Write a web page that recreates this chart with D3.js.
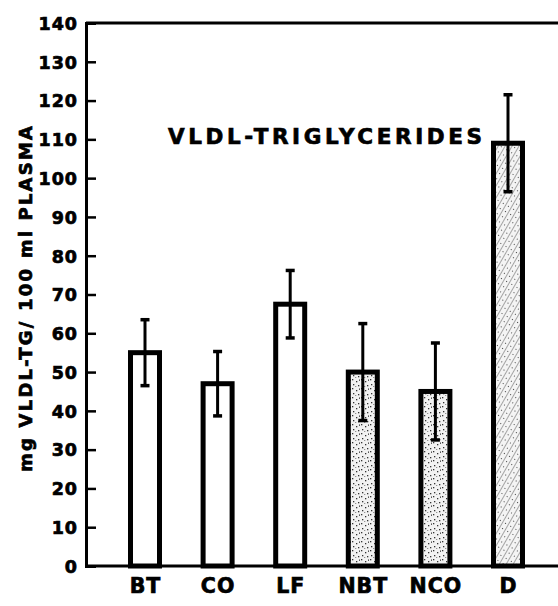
<!DOCTYPE html>
<html>
<head>
<meta charset="utf-8">
<script src="https://cdn.jsdelivr.net/npm/d3@7"></script>
<style>
  html, body { margin: 0; padding: 0; background: #fff; }
  svg { display: block; }
  text { font-family: "DejaVu Sans", "Liberation Sans", sans-serif; font-weight: bold; fill: #000; stroke: #000; stroke-width: 0.7px; }
</style>
</head>
<body>
<svg id="chart" width="558" height="606"></svg>
<script>
// ---- data ----
const categories = ["BT", "CO", "LF", "NBT", "NCO", "D"];
const means      = [55, 47, 67.5, 50, 45, 109];
const errors     = [8.5, 8.3, 8.7, 12.5, 12.5, 12.5];
const fills      = ["white", "white", "white", "stipple", "stipple", "hatch"];
const yTicks     = [0, 10, 20, 30, 40, 50, 60, 70, 80, 90, 100, 110, 120, 130, 140];
const title      = "VLDL-TRIGLYCERIDES";
const yLabel     = "mg VLDL-TG/ 100 ml PLASMA";

const svg = d3.select("#chart");

// patterns
const defs = svg.append("defs");
const stip = defs.append("pattern").attr("id", "stipple")
  .attr("patternUnits", "userSpaceOnUse").attr("width", 9).attr("height", 9);
stip.append("rect").attr("width", 9).attr("height", 9).attr("fill", "#f2f2f2");
[[1,1],[5,3],[2,6],[7,7],[4,8.5],[8,1.5]].forEach(([cx, cy]) =>
  stip.append("rect").attr("x", cx).attr("y", cy).attr("width", 1.3).attr("height", 1.3).attr("fill", "#333"));

const hatch = defs.append("pattern").attr("id", "hatch")
  .attr("patternUnits", "userSpaceOnUse").attr("width", 6).attr("height", 6)
  .attr("patternTransform", "rotate(30)");
hatch.append("rect").attr("width", 6).attr("height", 6).attr("fill", "#f4f4f4");
hatch.append("line").attr("x1", 0).attr("y1", 0).attr("x2", 0).attr("y2", 6)
  .attr("stroke", "#555").attr("stroke-width", 1);
hatch.append("rect").attr("x", 3).attr("y", 2).attr("width", 1).attr("height", 1).attr("fill", "#444");

// scales
const x = d3.scalePoint().domain(categories).range([145, 508]);
const y = d3.scaleLinear().domain([0, 140]).range([566, 23]);
const barW = 29;

// bars
const g = svg.append("g");
categories.forEach((c, i) => {
  const cx = x(c);
  g.append("rect")
    .attr("x", cx - barW / 2)
    .attr("y", y(means[i]))
    .attr("width", barW)
    .attr("height", y(0) - y(means[i]))
    .attr("fill", fills[i] === "white" ? "#fff" : `url(#${fills[i]})`)
    .attr("stroke", "#000").attr("stroke-width", 5);
  const top = y(means[i] + errors[i]), bot = y(means[i] - errors[i]);
  g.append("line").attr("x1", cx).attr("x2", cx).attr("y1", top).attr("y2", bot)
    .attr("stroke", "#000").attr("stroke-width", 3);
  [top, bot].forEach(yy =>
    g.append("line").attr("x1", cx - 4.5).attr("x2", cx + 4.5).attr("y1", yy).attr("y2", yy)
      .attr("stroke", "#000").attr("stroke-width", 3.5));
});

// axes frame
const x0 = 86;
svg.append("line").attr("x1", x0).attr("x2", 558).attr("y1", y(140)).attr("y2", y(140))
  .attr("stroke", "#000").attr("stroke-width", 3);
svg.append("line").attr("x1", x0).attr("x2", 558).attr("y1", y(0)).attr("y2", y(0))
  .attr("stroke", "#000").attr("stroke-width", 3);

const yAxis = d3.axisLeft(y).tickValues(yTicks).tickSize(-10).tickPadding(8)
  .tickFormat(d3.format("d"));
const ga = svg.append("g").attr("transform", `translate(${x0},0)`).call(yAxis);
ga.select(".domain").attr("stroke", "#000").attr("stroke-width", 3);
ga.selectAll(".tick line").attr("stroke", "#000").attr("stroke-width", 2.5);
ga.selectAll(".tick text").attr("font-size", 17.5).attr("letter-spacing", 1)
  .style("font-family", "'DejaVu Sans', sans-serif").style("font-weight", "bold").attr("dy", "0.36em");

// category labels
const xAxis = d3.axisBottom(x).tickSize(0).tickPadding(12);
const gx = svg.append("g").attr("transform", `translate(0,${y(0)})`).call(xAxis);
gx.select(".domain").remove();
gx.selectAll(".tick text").attr("font-size", 20.5).attr("letter-spacing", 1)
  .style("font-family", "'DejaVu Sans', sans-serif").style("font-weight", "bold");

// title
svg.append("text").attr("x", 168).attr("y", 144)
  .attr("font-size", 21.5).attr("textLength", 314).attr("lengthAdjust", "spacing")
  .text(title);

// y label
svg.append("text")
  .attr("transform", "translate(32,299) rotate(-90)")
  .attr("text-anchor", "middle")
  .attr("font-size", 18).attr("textLength", 346).attr("lengthAdjust", "spacing")
  .text(yLabel);
</script>
</body>
</html>
